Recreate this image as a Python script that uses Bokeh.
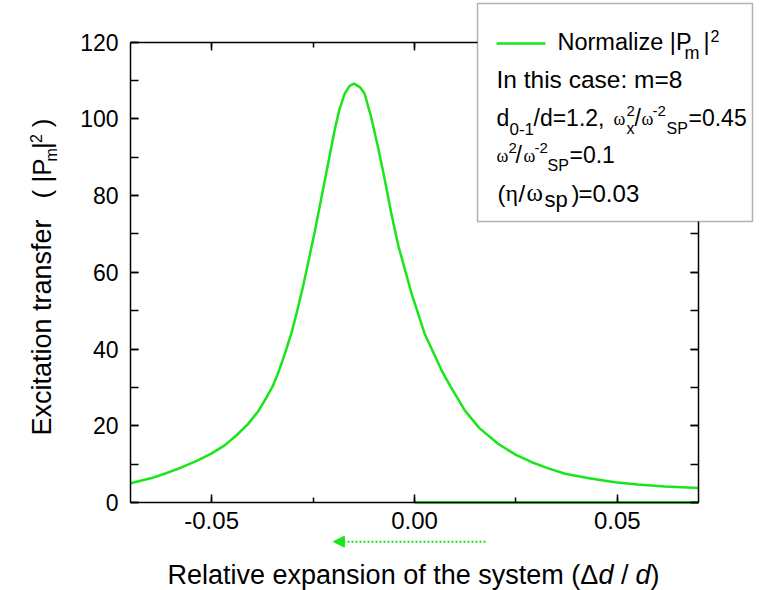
from bokeh.plotting import figure
from bokeh.models import (Range1d, LinearAxis, SingleIntervalTicker, PrintfTickFormatter,
                          Label, BoxAnnotation, Arrow, NormalHead, ColumnDataSource)
from bokeh.embed import file_html
from bokeh.resources import INLINE
import math

try:
    from bokeh.models import Spline
except ImportError:
    Spline = None

# ---------------- data ----------------
delta_d = [-0.0700, -0.0650, -0.0616, -0.0580, -0.0534, -0.0500, -0.0468, -0.0440,
           -0.0410, -0.0385, -0.0369, -0.0350, -0.0336, -0.0320, -0.0303, -0.0290,
           -0.0275, -0.0246, -0.0221, -0.0197, -0.0185, -0.0172, -0.0160, -0.0149,
           -0.0135, -0.0123, -0.0107, -0.0090, -0.0073, -0.0057, -0.0040, -0.0007,
           0.0025, 0.0067, 0.0090, 0.0124, 0.0160, 0.0206, 0.0250, 0.0289,
           0.0330, 0.0371, 0.0430, 0.0494, 0.0550, 0.0617, 0.0700]
pm2 = [5.0, 6.3, 7.5, 8.9, 11.0, 12.8, 14.9, 17.4,
       20.5, 23.8, 26.6, 30.2, 33.8, 38.6, 44.3, 49.6,
       56.2, 70.5, 84.0, 97.0, 102.5, 106.6, 108.6, 109.2,
       108.3, 106.6, 100.5, 92.7, 84.0, 75.3, 67.0, 54.4,
       44.0, 34.4, 30.0, 24.0, 19.4, 15.3, 12.4, 10.5,
       8.9, 7.5, 6.3, 5.3, 4.7, 4.2, 3.8]
zero_x = [0.0, 0.07]
zero_y = [0.0, 0.0]
x_ticks_interval = 0.05
y_ticks_interval = 20
x_limits = (-0.07, 0.07)
y_limits = (0, 120)
arrow_x = [0.0175, -0.0200]   # dotted arrow below the axis (start, end)
arrow_y = -10.2

GREEN = "#19e619"
FONT = "Liberation Sans"
SERIF = "Liberation Serif"

W, H = 765, 590
# the frame covers the whole canvas; the box axes are pinned with fixed_location
PX_PER_X = 568 / 0.14
PX_PER_Y = 460.3 / 120
X0 = x_limits[0] - 130 / PX_PER_X
X1 = x_limits[1] + (W - 698) / PX_PER_X
Y1 = y_limits[1] + 41.7 / PX_PER_Y
Y0 = y_limits[0] - (H - 502) / PX_PER_Y

p = figure(width=W, height=H, output_backend="svg", toolbar_location=None,
           x_range=Range1d(X0, X1), y_range=Range1d(Y0, Y1),
           x_axis_location=None, y_axis_location=None,
           min_border=0, min_border_left=0, min_border_right=0,
           min_border_top=0, min_border_bottom=0)
p.title.visible = False
p.outline_line_color = None
p.grid.visible = False
p.background_fill_color = "white"
p.border_fill_color = "white"


def make_axis(kind, show_labels, loc):
    ax = LinearAxis(fixed_location=loc)
    if kind == "x":
        ax.ticker = SingleIntervalTicker(interval=x_ticks_interval, num_minor_ticks=2)
        ax.formatter = PrintfTickFormatter(format="%.2f")
        ax.bounds = x_limits
        ax.minor_tick_in = 5
        ax.major_label_text_font_size = "24px"
    else:
        ax.ticker = SingleIntervalTicker(interval=y_ticks_interval, num_minor_ticks=2)
        ax.bounds = y_limits
        ax.minor_tick_in = 8
        ax.major_label_text_font_size = "23px"
    ax.major_tick_in = 8
    ax.major_tick_out = 0
    ax.minor_tick_out = 0
    ax.axis_line_width = 1.5
    ax.axis_line_color = "black"
    ax.major_tick_line_width = 1.5
    ax.minor_tick_line_width = 1.5
    ax.major_tick_line_color = "black"
    ax.minor_tick_line_color = "black"
    ax.major_label_text_font = FONT
    ax.major_label_text_color = "black" if show_labels else None
    return ax


xb = make_axis("x", True, y_limits[0])
xb.major_label_standoff = 9
p.add_layout(xb, "below")
yl = make_axis("y", True, x_limits[0])
yl.major_label_standoff = 12
p.add_layout(yl, "left")
p.add_layout(make_axis("x", False, y_limits[1]), "above")
p.add_layout(make_axis("y", False, x_limits[1]), "right")

# ---------------- curve ----------------
src = ColumnDataSource(dict(x=delta_d, y=pm2))
if Spline is not None:
    p.add_glyph(src, Spline(x="x", y="y", line_color=GREEN, line_width=2.5, tension=0.5))
else:
    p.line("x", "y", source=src, line_color=GREEN, line_width=2.5)
p.line(zero_x, zero_y, line_color=GREEN, line_width=2.5)

# dotted arrow below the axis
p.add_layout(Arrow(x_start=arrow_x[0], y_start=arrow_y, x_end=arrow_x[1], y_end=arrow_y,
                   line_color=GREEN, line_width=2, line_dash="2 2",
                   end=NormalHead(size=11, fill_color=GREEN, line_color=GREEN, line_width=1)))


def lab(text, px, pyb, size, font=FONT, angle=0.0, style="normal"):
    """px: left of text, pyb: baseline (canvas pixels, y down)."""
    c = 0.347 * size                      # baseline -> middle of the text box
    cx = px - math.sin(angle) * c
    cy = pyb - math.cos(angle) * c
    p.add_layout(Label(x=cx, y=H - cy, x_units="screen", y_units="screen",
                       text=text, text_font=font, text_font_size=f"{size}px",
                       text_font_style=style, text_color="black",
                       text_baseline="middle", text_align="left", angle=angle))


# ---------------- x axis title ----------------
bx = 584
lab("Relative expansion of the system (\u0394", 167, bx, 27)
lab("d", 598, bx, 27, style="italic")
lab("\u00a0/\u00a0", 613, bx, 27)
lab("d", 635, bx, 27, style="italic")
lab(")", 650, bx, 27)

# ---------------- y axis title (rotated) ----------------
A = math.pi / 2
lab("Excitation transfer", 51, 435, 27, angle=A)
lab("( |P", 51, 198, 26, angle=A)
lab("m", 57, 161, 16, angle=A)
lab("|", 51, 148.5, 26, angle=A)
lab("2", 41, 142.5, 16, angle=A)
lab("\u00a0)", 51, 134, 26, angle=A)

# ---------------- legend / info box ----------------
p.add_layout(BoxAnnotation(left=477, right=752, top=H - 3, bottom=H - 221,
                           left_units="screen", right_units="screen",
                           top_units="screen", bottom_units="screen",
                           fill_color="white", fill_alpha=1.0,
                           line_color="black", line_width=1.5))
p.add_layout(Arrow(x_start=496, y_start=H - 43, x_end=545, y_end=H - 43,
                   start_units="screen", end_units="screen", end=None,
                   line_color=GREEN, line_width=2.5))

# line 1
lab("Normalize |P", 557, 50, 23.5)
lab("m", 684, 59, 18)
lab("|", 703, 50, 23.5)
lab("2", 710, 41, 16)
# line 2
lab("In this case: m=8", 496, 88, 24.5)
# line 3
b3 = 125
lab("d", 496, b3, 23)
lab("0-1", 509, b3 + 9, 17)
lab("/d=1.2,", 533, b3, 23)
lab("\u03c9", 613, b3, 18, font=SERIF)
lab("2", 626, b3 - 9, 15)
lab("x", 626, b3 + 9, 16)
lab("/", 634, b3, 23)
lab("\u03c9", 641, b3, 18, font=SERIF)
lab("-2", 652, b3 - 9, 15)
lab("SP", 666, b3 + 9, 16)
lab("=0.45", 688, b3, 23)
# line 4
b4 = 162
lab("\u03c9", 496, b4, 18, font=SERIF)
lab("2", 508, b4 - 9, 15)
lab("/", 515, b4, 23)
lab("\u03c9", 523, b4, 18, font=SERIF)
lab("-2", 534, b4 - 9, 15)
lab("SP", 547, b4 + 9, 16)
lab("=0.1", 569, b4, 23)
# line 5
b5 = 201
lab("(", 497, b5, 24)
lab("\u03b7", 505, b5, 24, font=SERIF)
lab("/", 518, b5, 24)
lab("\u03c9", 526, b5, 25, font=SERIF)
lab("sp", 544, b5 + 6, 22)
lab(")", 571, b5, 24)
lab("=0.03", 578, b5, 24)

open("out.html", "w").write(file_html(p, INLINE))
